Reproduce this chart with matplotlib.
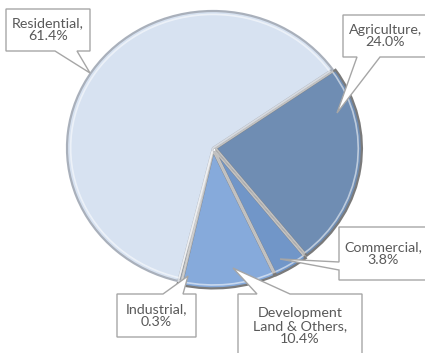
import numpy as np
import matplotlib
matplotlib.use('Agg')
import matplotlib.pyplot as plt
from matplotlib.patches import Polygon

# land use split (clockwise from Agriculture)
categories = ['Agriculture', 'Commercial', 'Development\nLand & Others', 'Industrial', 'Residential']
shares = [24.0, 3.8, 10.4, 0.3, 61.4]
colours = ['#6f8db3', '#7196c8', '#86aadb', '#9db9e0', '#d7e2f1']
explode = [0.02, 0.025, 0.025, 0.025, 0.0]

W, H = 425, 353
fig = plt.figure(figsize=(W / 100, H / 100), dpi=100)

# pie is a little wider than tall
cx, cy = 213, 148
rx, ry = 146, 137
ax = fig.add_axes([(cx - rx) / W, (H - cy - ry) / H, 2 * rx / W, 2 * ry / H])

wedges, _ = ax.pie(shares, colors=colours, explode=explode, startangle=35,
                   counterclock=False, radius=1.0,
                   wedgeprops=dict(edgecolor='#7a7a7a', linewidth=1.6, clip_on=False))
wedges[-1].set_edgecolor('#a9b0bb')
# soft bevel: light inner rim on each slice
ax.pie(shares, colors=['none'] * len(shares), explode=explode, startangle=35,
       counterclock=False, radius=0.975,
       wedgeprops=dict(edgecolor='white', linewidth=1.2, alpha=0.55, clip_on=False))
ax.set_aspect('auto')
ax.set_xlim(-1, 1)
ax.set_ylim(-1, 1)
ax.axis('off')


def px(x, y):
    return (x / W, 1 - y / H)


def callout(box, side, base, tip, text):
    x0, y0, x1, y1 = box
    pts = [(x0, y0)]
    if side == 'top':
        pts += [(base[0], y0), tip, (base[1], y0)]
    pts += [(x1, y0), (x1, y1)]
    if side == 'bottom':
        pts += [(base[1], y1), tip, (base[0], y1)]
    pts += [(x0, y1)]
    if side == 'left':
        pts += [(x0, base[1]), tip, (x0, base[0])]
    poly = Polygon([px(*p) for p in pts], closed=True, transform=fig.transFigure,
                   facecolor='white', edgecolor='#a6a6a6', linewidth=1.0)
    fig.add_artist(poly)
    fig.text(*px((x0 + x1) / 2, (y0 + y1) / 2), text, ha='center', va='center',
             fontsize=10.3, color='#595959', family='Lato', linespacing=1.1)


labels = ['%s,\n%.1f%%' % (c, s) for c, s in zip(categories, shares)]
lab = dict(zip(categories, labels))

callout((6, 9, 90, 51), 'bottom', (55, 77), (90, 73), lab['Residential'])
callout((343, 15, 428, 57), 'bottom', (357, 380), (337, 113), lab['Agriculture'])
callout((339, 227, 428, 280), 'left', (262, 270), (280, 259), lab['Commercial'])
callout((238, 294, 362, 358), 'top', (257, 290), (233, 268), lab['Development\nLand & Others'])
callout((117, 294, 196, 337), 'top', (163, 183), (188, 276), lab['Industrial'])

fig.savefig('out.png', dpi=100)
